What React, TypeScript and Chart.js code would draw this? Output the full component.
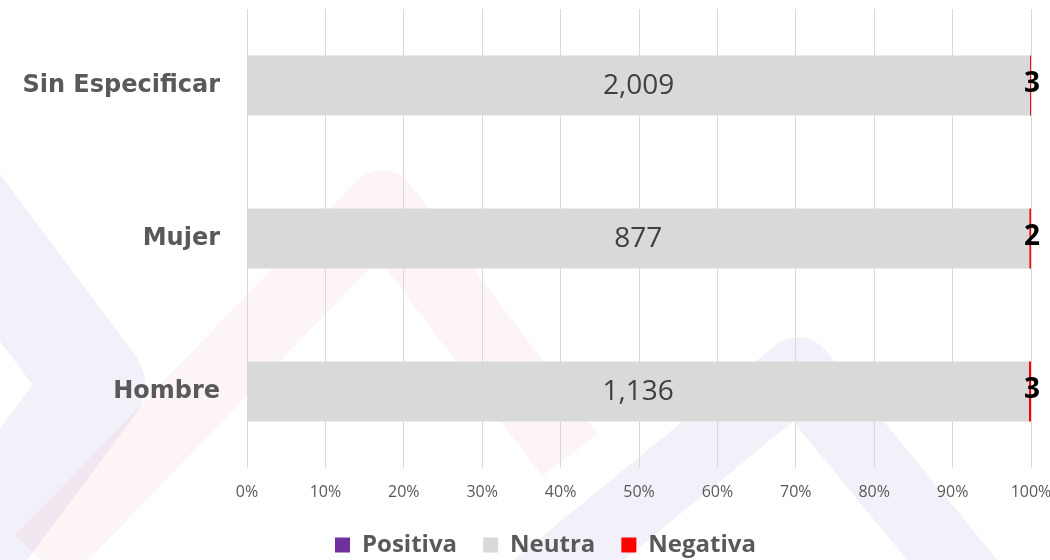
import React, { useEffect, useRef } from 'react';
import { Chart, registerables } from 'chart.js';

Chart.register(...registerables);

const categories = ['Sin Especificar', 'Mujer', 'Hombre'];
const seriesNames = ['Positiva', 'Neutra', 'Negativa'];
const positiva = [0, 0, 0];
const neutra = [2009, 877, 1136];
const negativa = [3, 2, 3];
const seriesColors = ['#7030A0', '#D9D9D9', '#FF0000'];
const xTickMax = 100;
const xTickStep = 10;

const rawSeries = [positiva, neutra, negativa];
const totals = categories.map((_, i) => positiva[i] + neutra[i] + negativa[i]);

const backgroundPlugin = {
  id: 'bgWatermark',
  beforeDraw(chart: any) {
    const { ctx, width, height } = chart;
    ctx.save();
    ctx.fillStyle = '#ffffff';
    ctx.fillRect(0, 0, width, height);
    ctx.lineJoin = 'round';
    ctx.lineCap = 'butt';
    // left purple chevron
    ctx.strokeStyle = 'rgba(150,140,205,0.12)';
    ctx.lineWidth = 100;
    ctx.beginPath();
    ctx.moveTo(-80, 150);
    ctx.lineTo(95, 385);
    ctx.lineTo(-80, 620);
    ctx.stroke();
    // pink chevron
    ctx.strokeStyle = 'rgba(225,110,140,0.08)';
    ctx.lineWidth = 70;
    ctx.beginPath();
    ctx.moveTo(40, 560);
    ctx.lineTo(382, 205);
    ctx.lineTo(570, 455);
    ctx.stroke();
    // purple chevron right
    ctx.strokeStyle = 'rgba(150,140,205,0.12)';
    ctx.lineWidth = 70;
    ctx.beginPath();
    ctx.moveTo(520, 600);
    ctx.lineTo(798, 372);
    ctx.lineTo(985, 600);
    ctx.stroke();
    ctx.restore();
  },
};

const legendShiftPlugin = {
  id: 'legendShift',
  afterLayout(chart: any) {
    const lg = chart.legend;
    if (lg) {
      lg.left += 30;
      lg.right += 30;
    }
  },
};

const labelPlugin = {
  id: 'valueLabels',
  afterDatasetsDraw(chart: any) {
    const { ctx } = chart;
    ctx.save();
    ctx.textBaseline = 'middle';
    ctx.textAlign = 'center';
    chart.data.datasets.forEach((_ds: any, di: number) => {
      const meta = chart.getDatasetMeta(di);
      const raw = rawSeries[di];
      meta.data.forEach((el: any, i: number) => {
        const v = raw[i];
        if (!v) return;
        const txt = v.toLocaleString('en-US');
        if (di === 2) {
          ctx.font = 'bold 28px "Open Sans"';
          ctx.fillStyle = '#000000';
          ctx.fillText(txt, el.x + 1, el.y - 1);
        } else {
          ctx.font = '28px "Open Sans"';
          ctx.fillStyle = '#404040';
          ctx.fillText(txt, (el.x + el.base) / 2, el.y + 1);
        }
      });
    });
    ctx.restore();
  },
};

export default function App() {
  const ref = useRef<HTMLCanvasElement | null>(null);
  useEffect(() => {
    if (!ref.current) return;
    const chart = new Chart(ref.current, {
      type: 'bar',
      data: {
        labels: categories,
        datasets: rawSeries.map((arr, si) => ({
          label: seriesNames[si],
          data: arr.map((v, i) => (v / totals[i]) * 100),
          backgroundColor: seriesColors[si],
          borderWidth: 0,
          categoryPercentage: 1,
          barPercentage: 0.392,
        })),
      },
      options: {
        indexAxis: 'y',
        animation: false,
        responsive: false,
        layout: { padding: { top: 9, right: 19, bottom: -7, left: 0 } },
        scales: {
          x: {
            stacked: true,
            min: 0,
            max: xTickMax,
            ticks: {
              stepSize: xTickStep,
              callback: (v: any) => v + '%',
              color: '#595959',
              font: { family: '"Open Sans"', size: 16 },
              padding: 15,
              maxRotation: 0,
              autoSkip: false,
            },
            grid: { color: '#D9D9D9', lineWidth: 1, drawTicks: false },
            border: { display: false },
            afterFit: (s: any) => {
              s.height = 39;
              s.paddingLeft = 0;
              s.paddingRight = 0;
            },
          },
          y: {
            stacked: true,
            ticks: {
              color: '#595959',
              font: { family: '"DejaVu Sans"', size: 24, weight: 'bold' },
              padding: 27,
            },
            grid: { display: false, drawTicks: false },
            border: { display: false },
            afterFit: (s: any) => {
              s.width = 247;
              s.paddingTop = 0;
              s.paddingBottom = 0;
            },
          },
        },
        plugins: {
          legend: {
            position: 'bottom',
            labels: {
              boxWidth: 15,
              boxHeight: 15,
              padding: 26,
              color: '#595959',
              font: { family: '"Open Sans"', size: 24, weight: 'bold' },
            },
          },
          tooltip: { enabled: false },
        },
      },
      plugins: [backgroundPlugin, legendShiftPlugin, labelPlugin],
    } as any);
    return () => chart.destroy();
  }, []);
  return (
    <div style={{ position: 'absolute', left: 0, top: 0, width: 1050, height: 560 }}>
      <canvas ref={ref} width={1050} height={560} style={{ display: 'block' }} />
    </div>
  );
}
